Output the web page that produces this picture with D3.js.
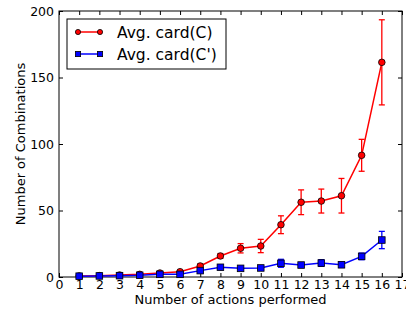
<!DOCTYPE html>
<html><head><meta charset="utf-8">
<script src="https://cdn.jsdelivr.net/npm/d3@7"></script>
<style>body{margin:0;background:#fff}svg{display:block;font-family:"DejaVu Sans",sans-serif}</style>
</head><body><svg id="c" width="406" height="315"></svg>
<script>
const actions = [1,2,3,4,5,6,7,8,9,10,11,12,13,14,15,16];
const cardC = [0.8,1,1.5,2,3,4,8.3,15.8,21.6,23.3,39.3,56.2,57.1,61.1,91.5,161.4];
const cardCErr = [0.3,0.3,0.4,0.5,0.8,1,1.5,1.8,3.5,5,6.7,9.3,9,13,12,32];
const cardCp = [0.6,0.8,1,1.3,2,2,4.8,7.3,6.5,6.8,10.3,9,10.5,9.2,15.5,27.8];
const cardCpErr = [0.2,0.2,0.3,0.4,0.5,0.6,1,1,0.8,1,3,1.5,2.5,2,2.5,6.5];
const xTicks = d3.range(0,18);
const yTicks = [0,50,100,150,200];
const legendLabels = ["Avg. card(C)","Avg. card(C')"];

const svg = d3.select("#c");
const L=59,R=402,T=11,B=277;
const x = d3.scaleLinear().domain([0,17]).range([L,R]);
const y = d3.scaleLinear().domain([0,200]).range([B,T]);

const ax = d3.axisBottom(x).tickValues(xTicks).tickSize(-4).tickPadding(3);
const gx = svg.append("g").attr("transform",`translate(0,${B})`).call(ax);
const gxt = svg.append("g").attr("transform",`translate(0,${T})`).call(d3.axisTop(x).tickValues(xTicks).tickSize(-4).tickFormat(""));
const gy = svg.append("g").attr("transform",`translate(${L},0)`).call(d3.axisLeft(y).tickValues(yTicks).tickSize(-4).tickPadding(5));
const gyr = svg.append("g").attr("transform",`translate(${R},0)`).call(d3.axisRight(y).tickValues(yTicks).tickSize(-4).tickFormat(""));
[gx,gxt,gy,gyr].forEach(a=>{a.select(".domain").remove();a.selectAll(".tick line").attr("stroke","#000");a.selectAll("text").attr("font-size",12.5).attr("font-family","DejaVu Sans").attr("fill","#000");});
svg.append("rect").attr("x",L).attr("y",T).attr("width",R-L).attr("height",B-T).attr("fill","none").attr("stroke","#000").attr("stroke-width",1);

const plot = svg.append("g");

function series(vals, errs, color, marker){
  const gg = plot.append("g");
  const line = d3.line().x((d,i)=>x(actions[i])).y(d=>y(d));
  gg.append("path").datum(vals).attr("d",line).attr("fill","none").attr("stroke",color).attr("stroke-width",1.5);
  vals.forEach((v,i)=>{
    const cx=x(actions[i]);
    gg.append("line").attr("x1",cx).attr("x2",cx).attr("y1",y(v-errs[i])).attr("y2",y(v+errs[i])).attr("stroke",color).attr("stroke-width",1.3);
    [v-errs[i],v+errs[i]].forEach(e=>gg.append("line").attr("x1",cx-3).attr("x2",cx+3).attr("y1",y(e)).attr("y2",y(e)).attr("stroke",color).attr("stroke-width",1.3));
  });
  vals.forEach((v,i)=>{
    const cx=x(actions[i]), cy=y(v);
    if(marker==="o") gg.append("circle").attr("cx",cx).attr("cy",cy).attr("r",3.3).attr("fill",color).attr("stroke","#000").attr("stroke-width",0.8);
    else gg.append("rect").attr("x",cx-3.3).attr("y",cy-3.3).attr("width",6.6).attr("height",6.6).attr("fill",color).attr("stroke","#000").attr("stroke-width",0.8);
  });
}
series(cardC,cardCErr,"#ff0000","o");
series(cardCp,cardCpErr,"#0000ff","s");

// legend
const lg = svg.append("g");
lg.append("rect").attr("x",67).attr("y",19).attr("width",159).attr("height",50).attr("fill","#fff").attr("stroke","#000").attr("stroke-width",1);
const lc=["#ff0000","#0000ff"], lm=["o","s"];
legendLabels.forEach((t,i)=>{
  const yy = 32+i*22;
  lg.append("line").attr("x1",78).attr("x2",100).attr("y1",yy).attr("y2",yy).attr("stroke",lc[i]).attr("stroke-width",1.5);
  [78,100].forEach(px=>{
    if(lm[i]==="o") lg.append("circle").attr("cx",px).attr("cy",yy).attr("r",2.6).attr("fill",lc[i]).attr("stroke","#000").attr("stroke-width",0.8);
    else lg.append("rect").attr("x",px-2.6).attr("y",yy-2.6).attr("width",5.2).attr("height",5.2).attr("fill",lc[i]).attr("stroke","#000").attr("stroke-width",0.8);
  });
  lg.append("text").attr("x",117).attr("y",yy+5.5).attr("font-size",15.5).attr("fill","#000").text(t);
});

svg.append("text").attr("x",(L+R)/2).attr("y",304).attr("text-anchor","middle").attr("font-size",13).text("Number of actions performed");
svg.append("text").attr("transform",`translate(24.5,${(T+B)/2}) rotate(-90)`).attr("text-anchor","middle").attr("font-size",13).text("Number of Combinations");
</script></body></html>
